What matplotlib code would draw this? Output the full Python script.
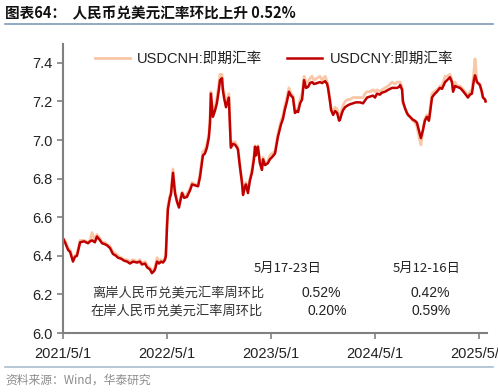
import matplotlib
matplotlib.use("Agg")
import matplotlib.pyplot as plt
import pandas as pd

plt.rcParams['font.family'] = ['Liberation Sans', 'Noto Sans CJK SC', 'DejaVu Sans']
plt.rcParams['axes.unicode_minus'] = False

# ---- data ----
dates = [
    "2021-05-01", "2021-05-08", "2021-05-19", "2021-05-26", "2021-06-05", "2021-06-12", "2021-06-19",
    "2021-06-30", "2021-07-14", "2021-07-28", "2021-08-04", "2021-08-11", "2021-08-21", "2021-08-28",
    "2021-09-08", "2021-09-15", "2021-09-25", "2021-10-02", "2021-10-13", "2021-10-23", "2021-11-03",
    "2021-11-10", "2021-11-21", "2021-12-01", "2021-12-12", "2021-12-22", "2022-01-02", "2022-01-16",
    "2022-01-26", "2022-02-02", "2022-02-13", "2022-02-20", "2022-03-02", "2022-03-09", "2022-03-16",
    "2022-03-20", "2022-03-27", "2022-04-03", "2022-04-10", "2022-04-17", "2022-04-24", "2022-04-27",
    "2022-05-01", "2022-05-04", "2022-05-11", "2022-05-15", "2022-05-22", "2022-05-29", "2022-06-05",
    "2022-06-12", "2022-06-19", "2022-06-23", "2022-06-30", "2022-07-10", "2022-07-21", "2022-07-28",
    "2022-08-07", "2022-08-18", "2022-08-25", "2022-09-04", "2022-09-11", "2022-09-18", "2022-09-25",
    "2022-09-29", "2022-10-02", "2022-10-09", "2022-10-16", "2022-10-23", "2022-10-30", "2022-11-03",
    "2022-11-10", "2022-11-13", "2022-11-17", "2022-11-24", "2022-12-04", "2022-12-11", "2022-12-19",
    "2022-12-26", "2023-01-02", "2023-01-05", "2023-01-12", "2023-01-19", "2023-01-23", "2023-01-30",
    "2023-02-02", "2023-02-09", "2023-02-16", "2023-02-23", "2023-03-02", "2023-03-06", "2023-03-09",
    "2023-03-16", "2023-03-23", "2023-03-30", "2023-04-03", "2023-04-10", "2023-04-20", "2023-04-27",
    "2023-05-04", "2023-05-15", "2023-05-25", "2023-06-05", "2023-06-12", "2023-06-19", "2023-06-26",
    "2023-07-03", "2023-07-10", "2023-07-17", "2023-07-24", "2023-07-31", "2023-08-04", "2023-08-11",
    "2023-08-18", "2023-08-25", "2023-09-01", "2023-09-08", "2023-09-15", "2023-09-22", "2023-09-29",
    "2023-10-09", "2023-10-20", "2023-10-27", "2023-11-07", "2023-11-14", "2023-11-17", "2023-11-24",
    "2023-11-28", "2023-12-05", "2023-12-12", "2023-12-19", "2023-12-26", "2023-12-29", "2024-01-05",
    "2024-01-09", "2024-01-16", "2024-01-26", "2024-02-02", "2024-02-13", "2024-02-23", "2024-03-08",
    "2024-03-19", "2024-03-26", "2024-04-02", "2024-04-12", "2024-04-23", "2024-04-30", "2024-05-07",
    "2024-05-17", "2024-05-24", "2024-06-04", "2024-06-15", "2024-06-29", "2024-07-09", "2024-07-16",
    "2024-07-23", "2024-07-27", "2024-08-03", "2024-08-06", "2024-08-13", "2024-08-20", "2024-08-24",
    "2024-08-31", "2024-09-10", "2024-09-17", "2024-09-24", "2024-10-01", "2024-10-08", "2024-10-15",
    "2024-10-22", "2024-10-29", "2024-11-05", "2024-11-09", "2024-11-16", "2024-11-23", "2024-12-03",
    "2024-12-14", "2024-12-21", "2025-01-01", "2025-01-08", "2025-01-18", "2025-01-25", "2025-01-29",
    "2025-02-05", "2025-02-12", "2025-02-22", "2025-03-01", "2025-03-12", "2025-03-22", "2025-03-29",
    "2025-04-05", "2025-04-12", "2025-04-16", "2025-04-23", "2025-05-03", "2025-05-10", "2025-05-14",
    "2025-05-21", "2025-05-23",
]

usdcny = [
    6.49, 6.47, 6.43, 6.42, 6.37, 6.395, 6.40,
    6.47, 6.475, 6.465, 6.475, 6.48, 6.47, 6.50,
    6.48, 6.465, 6.46, 6.455, 6.44, 6.41, 6.40,
    6.39, 6.385, 6.375, 6.37, 6.36, 6.37, 6.365,
    6.37, 6.355, 6.36, 6.34, 6.33, 6.31, 6.32,
    6.33, 6.37, 6.36, 6.37, 6.365, 6.38, 6.40,
    6.55, 6.64, 6.70, 6.72, 6.83, 6.725, 6.68,
    6.65, 6.70, 6.725, 6.70, 6.705, 6.74, 6.77,
    6.765, 6.76, 6.81, 6.92, 6.93, 6.96, 7.015,
    7.09, 7.24, 7.12, 7.15, 7.19, 7.26, 7.31,
    7.32, 7.26, 7.22, 7.17, 7.22, 6.96, 6.98,
    6.975, 6.96, 6.95, 6.86, 6.78, 6.715, 6.76,
    6.77, 6.725, 6.79, 6.83, 6.90, 6.965, 6.92,
    6.965, 6.88, 6.845, 6.90, 6.87, 6.88, 6.90,
    6.91, 6.93, 7.015, 7.08, 7.11, 7.16, 7.20,
    7.25, 7.23, 7.22, 7.14, 7.15, 7.145, 7.19,
    7.21, 7.31, 7.27, 7.275, 7.295, 7.30, 7.29,
    7.295, 7.30, 7.295, 7.305, 7.29, 7.27, 7.20,
    7.155, 7.13, 7.15, 7.14, 7.10, 7.105, 7.14,
    7.155, 7.17, 7.18, 7.185, 7.19, 7.195, 7.195,
    7.19, 7.205, 7.22, 7.225, 7.23, 7.22, 7.24,
    7.235, 7.245, 7.25, 7.26, 7.27, 7.27, 7.27,
    7.275, 7.285, 7.26, 7.20, 7.165, 7.14, 7.13,
    7.12, 7.105, 7.10, 7.09, 7.05, 7.01, 7.05,
    7.10, 7.12, 7.10, 7.14, 7.22, 7.235, 7.25,
    7.27, 7.265, 7.30, 7.31, 7.325, 7.30, 7.25,
    7.28, 7.275, 7.27, 7.26, 7.24, 7.22, 7.235,
    7.24, 7.31, 7.335, 7.30, 7.285, 7.25, 7.22,
    7.21, 7.20,
]

usdcnh = [
    6.49, 6.48, 6.44, 6.43, 6.38, 6.40, 6.41,
    6.48, 6.48, 6.47, 6.48, 6.52, 6.48, 6.51,
    6.49, 6.47, 6.47, 6.46, 6.45, 6.42, 6.41,
    6.40, 6.39, 6.38, 6.38, 6.37, 6.38, 6.37,
    6.38, 6.36, 6.37, 6.35, 6.34, 6.32, 6.33,
    6.34, 6.39, 6.37, 6.38, 6.37, 6.39, 6.42,
    6.57, 6.66, 6.71, 6.73, 6.85, 6.74, 6.69,
    6.67, 6.71, 6.73, 6.71, 6.72, 6.75, 6.78,
    6.77, 6.77, 6.83, 6.94, 6.95, 6.98, 7.03,
    7.12, 7.25, 7.14, 7.17, 7.22, 7.29, 7.34,
    7.34, 7.27, 7.25, 7.19, 7.24, 6.97, 6.99,
    6.99, 6.97, 6.96, 6.87, 6.79, 6.72, 6.77,
    6.78, 6.74, 6.80, 6.85, 6.92, 6.97, 6.93,
    6.97, 6.89, 6.85, 6.91, 6.88, 6.89, 6.92,
    6.93, 6.94, 7.03, 7.10, 7.13, 7.18, 7.22,
    7.27, 7.24, 7.23, 7.15, 7.16, 7.16, 7.21,
    7.24, 7.33, 7.30, 7.30, 7.32, 7.33, 7.31,
    7.32, 7.33, 7.31, 7.33, 7.30, 7.28, 7.21,
    7.16, 7.15, 7.17, 7.16, 7.12, 7.12, 7.16,
    7.18, 7.20, 7.21, 7.21, 7.22, 7.22, 7.22,
    7.22, 7.24, 7.25, 7.25, 7.26, 7.25, 7.26,
    7.25, 7.26, 7.27, 7.28, 7.30, 7.29, 7.30,
    7.30, 7.30, 7.27, 7.19, 7.17, 7.14, 7.13,
    7.12, 7.10, 7.09, 7.07, 7.02, 6.975, 7.05,
    7.11, 7.13, 7.10, 7.16, 7.24, 7.25, 7.26,
    7.28, 7.28, 7.33, 7.33, 7.34, 7.31, 7.26,
    7.30, 7.28, 7.28, 7.27, 7.25, 7.23, 7.25,
    7.26, 7.35, 7.42, 7.30, 7.29, 7.24, 7.22,
    7.21, 7.20,
]

week_cols = ["5月17-23日", "5月12-16日"]
row_labels = ["离岸人民币兑美元汇率周环比", "在岸人民币兑美元汇率周环比"]
offshore_wow = ["0.52%", "0.42%"]
onshore_wow = ["0.20%", "0.59%"]

x = pd.to_datetime(dates)

# ---- figure ----
W, H = 498, 392
fig = plt.figure(figsize=(W / 100, H / 100), dpi=100)
ax = fig.add_axes([63 / W, 1 - 333 / H, (487 - 63) / W, (333 - 43.5) / H])

ax.plot(x, usdcnh, color="#F9C6A6", lw=2.0, label="USDCNH:即期汇率", solid_joinstyle="round")
ax.plot(x, usdcny, color="#C00000", lw=1.8, label="USDCNY:即期汇率", solid_joinstyle="round")

ax.set_ylim(6.0, 7.5)
ax.set_yticks([6.0, 6.2, 6.4, 6.6, 6.8, 7.0, 7.2, 7.4])
ax.yaxis.set_major_formatter(matplotlib.ticker.FormatStrFormatter("%.1f"))
ax.set_xlim(pd.Timestamp("2021-05-01"), pd.Timestamp("2025-05-28"))
xt = pd.to_datetime(["2021-05-01", "2022-05-01", "2023-05-01", "2024-05-01", "2025-05-01"])
ax.set_xticks(xt)
ax.set_xticklabels(["2021/5/1", "2022/5/1", "2023/5/1", "2024/5/1", "2025/5/1"])

for s in ["top", "right"]:
    ax.spines[s].set_visible(False)
for s in ["left", "bottom"]:
    ax.spines[s].set_color("#808080")
    ax.spines[s].set_linewidth(1.5)
ax.tick_params(axis="both", colors="#808080", labelcolor="#222222", labelsize=10.5,
               length=4, width=1.2, direction="out")
ax.tick_params(axis="x", pad=6)

leg = ax.legend(loc="upper left", bbox_to_anchor=((95 - 63) / 424, (333 - 52) / 289.5), ncol=2,
                frameon=False, fontsize=10.5, handlelength=2.4, columnspacing=1.7,
                handletextpad=0.5, borderpad=0, borderaxespad=0)
for t in leg.get_texts():
    t.set_color("#222222")

# weekly change table inside the plot
cn = ["Noto Sans CJK SC", "DejaVu Sans"]
fig.text(288 / W, 1 - 268 / H, week_cols[0], fontsize=9.5, ha="center", va="center", family=cn, color="#222222")
fig.text(427 / W, 1 - 268 / H, week_cols[1], fontsize=9.5, ha="center", va="center", family=cn, color="#222222")
fig.text(92 / W, 1 - 293 / H, row_labels[0], fontsize=9.5, ha="left", va="center", family=cn, color="#333333")
fig.text(90 / W, 1 - 311 / H, row_labels[1], fontsize=9.5, ha="left", va="center", family=cn, color="#333333")
fig.text(321 / W, 1 - 293 / H, offshore_wow[0], fontsize=10, ha="center", va="center", color="#222222")
fig.text(430 / W, 1 - 293 / H, offshore_wow[1], fontsize=10, ha="center", va="center", color="#222222")
fig.text(327 / W, 1 - 311 / H, onshore_wow[0], fontsize=10, ha="center", va="center", color="#222222")
fig.text(431 / W, 1 - 311 / H, onshore_wow[1], fontsize=10, ha="center", va="center", color="#222222")

# title + rules + source
fig.text(5 / W, 1 - 13 / H, "图表64：  人民币兑美元汇率环比上升 0.52%", fontsize=10.5,
         fontweight="bold", ha="left", va="center", family=cn, color="#111111")
fig.add_artist(plt.Line2D([5 / W, 493 / W], [1 - 23.5 / H, 1 - 23.5 / H], color="#7F98B8", lw=1.2))
fig.add_artist(plt.Line2D([5 / W, 493 / W], [1 - 367 / H, 1 - 367 / H], color="#A9BDD0", lw=1.2))
fig.text(5 / W, 1 - 380 / H, "资料来源：Wind，华泰研究", fontsize=8.5, ha="left", va="center",
         family=cn, color="#8C8C8C")

fig.savefig("out.png", dpi=100)
